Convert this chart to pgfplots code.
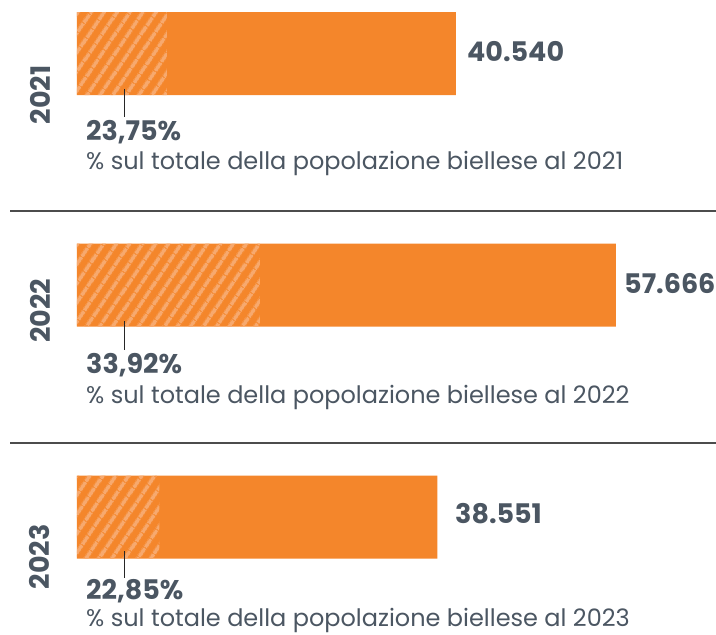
\documentclass[border=0pt]{standalone}
\usepackage{pgfplots}
\pgfplotsset{compat=1.18}
\usetikzlibrary{patterns.meta}
\usepackage{fontspec}
\setmainfont{Poppins}
\definecolor{barc}{HTML}{F4862B}
\definecolor{stripe}{HTML}{F7A96E}
\definecolor{txt}{HTML}{4B5662}
\tikzset{
  bignum/.style={anchor=west, inner sep=0pt, text=txt, font=\bfseries\fontsize{27}{27}\selectfont},
  sub/.style={anchor=west, inner sep=0pt, text=txt, font=\fontsize{24}{24}\selectfont},
  yr/.style={rotate=90, inner sep=0pt, text=txt, font=\bfseries\fontsize{27}{27}\selectfont},
}
\begin{document}
\begin{tikzpicture}
\begin{axis}[
  scale only axis, width=716pt, height=635pt,
  xmin=-8238, xmax=68367, ymin=0, ymax=635, y dir=reverse,
  axis lines=none, clip=false,
]
\addplot[xbar, bar shift=0pt, bar width=83, fill=barc, draw=none] coordinates {(40540,53.5) (57666,285) (38551,517)};
\addplot[xbar, bar shift=0pt, bar width=83, draw=none, pattern={Lines[angle=56,distance=10.5pt,line width=4pt]}, pattern color=stripe] coordinates {(9628,53.5) (19560,285) (8809,517)};
% separators
\draw[line width=1.2pt, black!70] (axis cs:-7168,211) -- (axis cs:68367,211);
\draw[line width=1.2pt, black!70] (axis cs:-7168,443) -- (axis cs:68367,443);
% tick lines
\draw[line width=0.9pt, black!85] (axis cs:5029,89) -- (axis cs:5029,117);
\draw[line width=0.9pt, black!85] (axis cs:5029,321) -- (axis cs:5029,350);
\draw[line width=0.9pt, black!85] (axis cs:5029,551) -- (axis cs:5029,578);
% year labels
\node[yr] at (axis cs:-3959,95) {2021};
\node[yr] at (axis cs:-3959,311) {2022};
\node[yr] at (axis cs:-3959,557) {2023};
% values
\node[bignum] at (axis cs:41726,52) {40.540};
\node[bignum] at (axis cs:58524,284) {57.666};
\node[bignum] at (axis cs:40442,514) {38.551};
% percentages
\node[bignum] at (axis cs:963,132) {23,75\%};
\node[bignum] at (axis cs:963,365) {33,92\%};
\node[bignum] at (axis cs:963,591) {22,85\%};
\node[sub] at (axis cs:963,163) {\% sul totale della popolazione biellese al 2021};
\node[sub] at (axis cs:963,397) {\% sul totale della popolazione biellese al 2022};
\node[sub] at (axis cs:963,620) {\% sul totale della popolazione biellese al 2023};
\end{axis}
\pgfresetboundingbox
\useasboundingbox (0,0) rectangle (716pt,635pt);
\end{tikzpicture}
\end{document}
